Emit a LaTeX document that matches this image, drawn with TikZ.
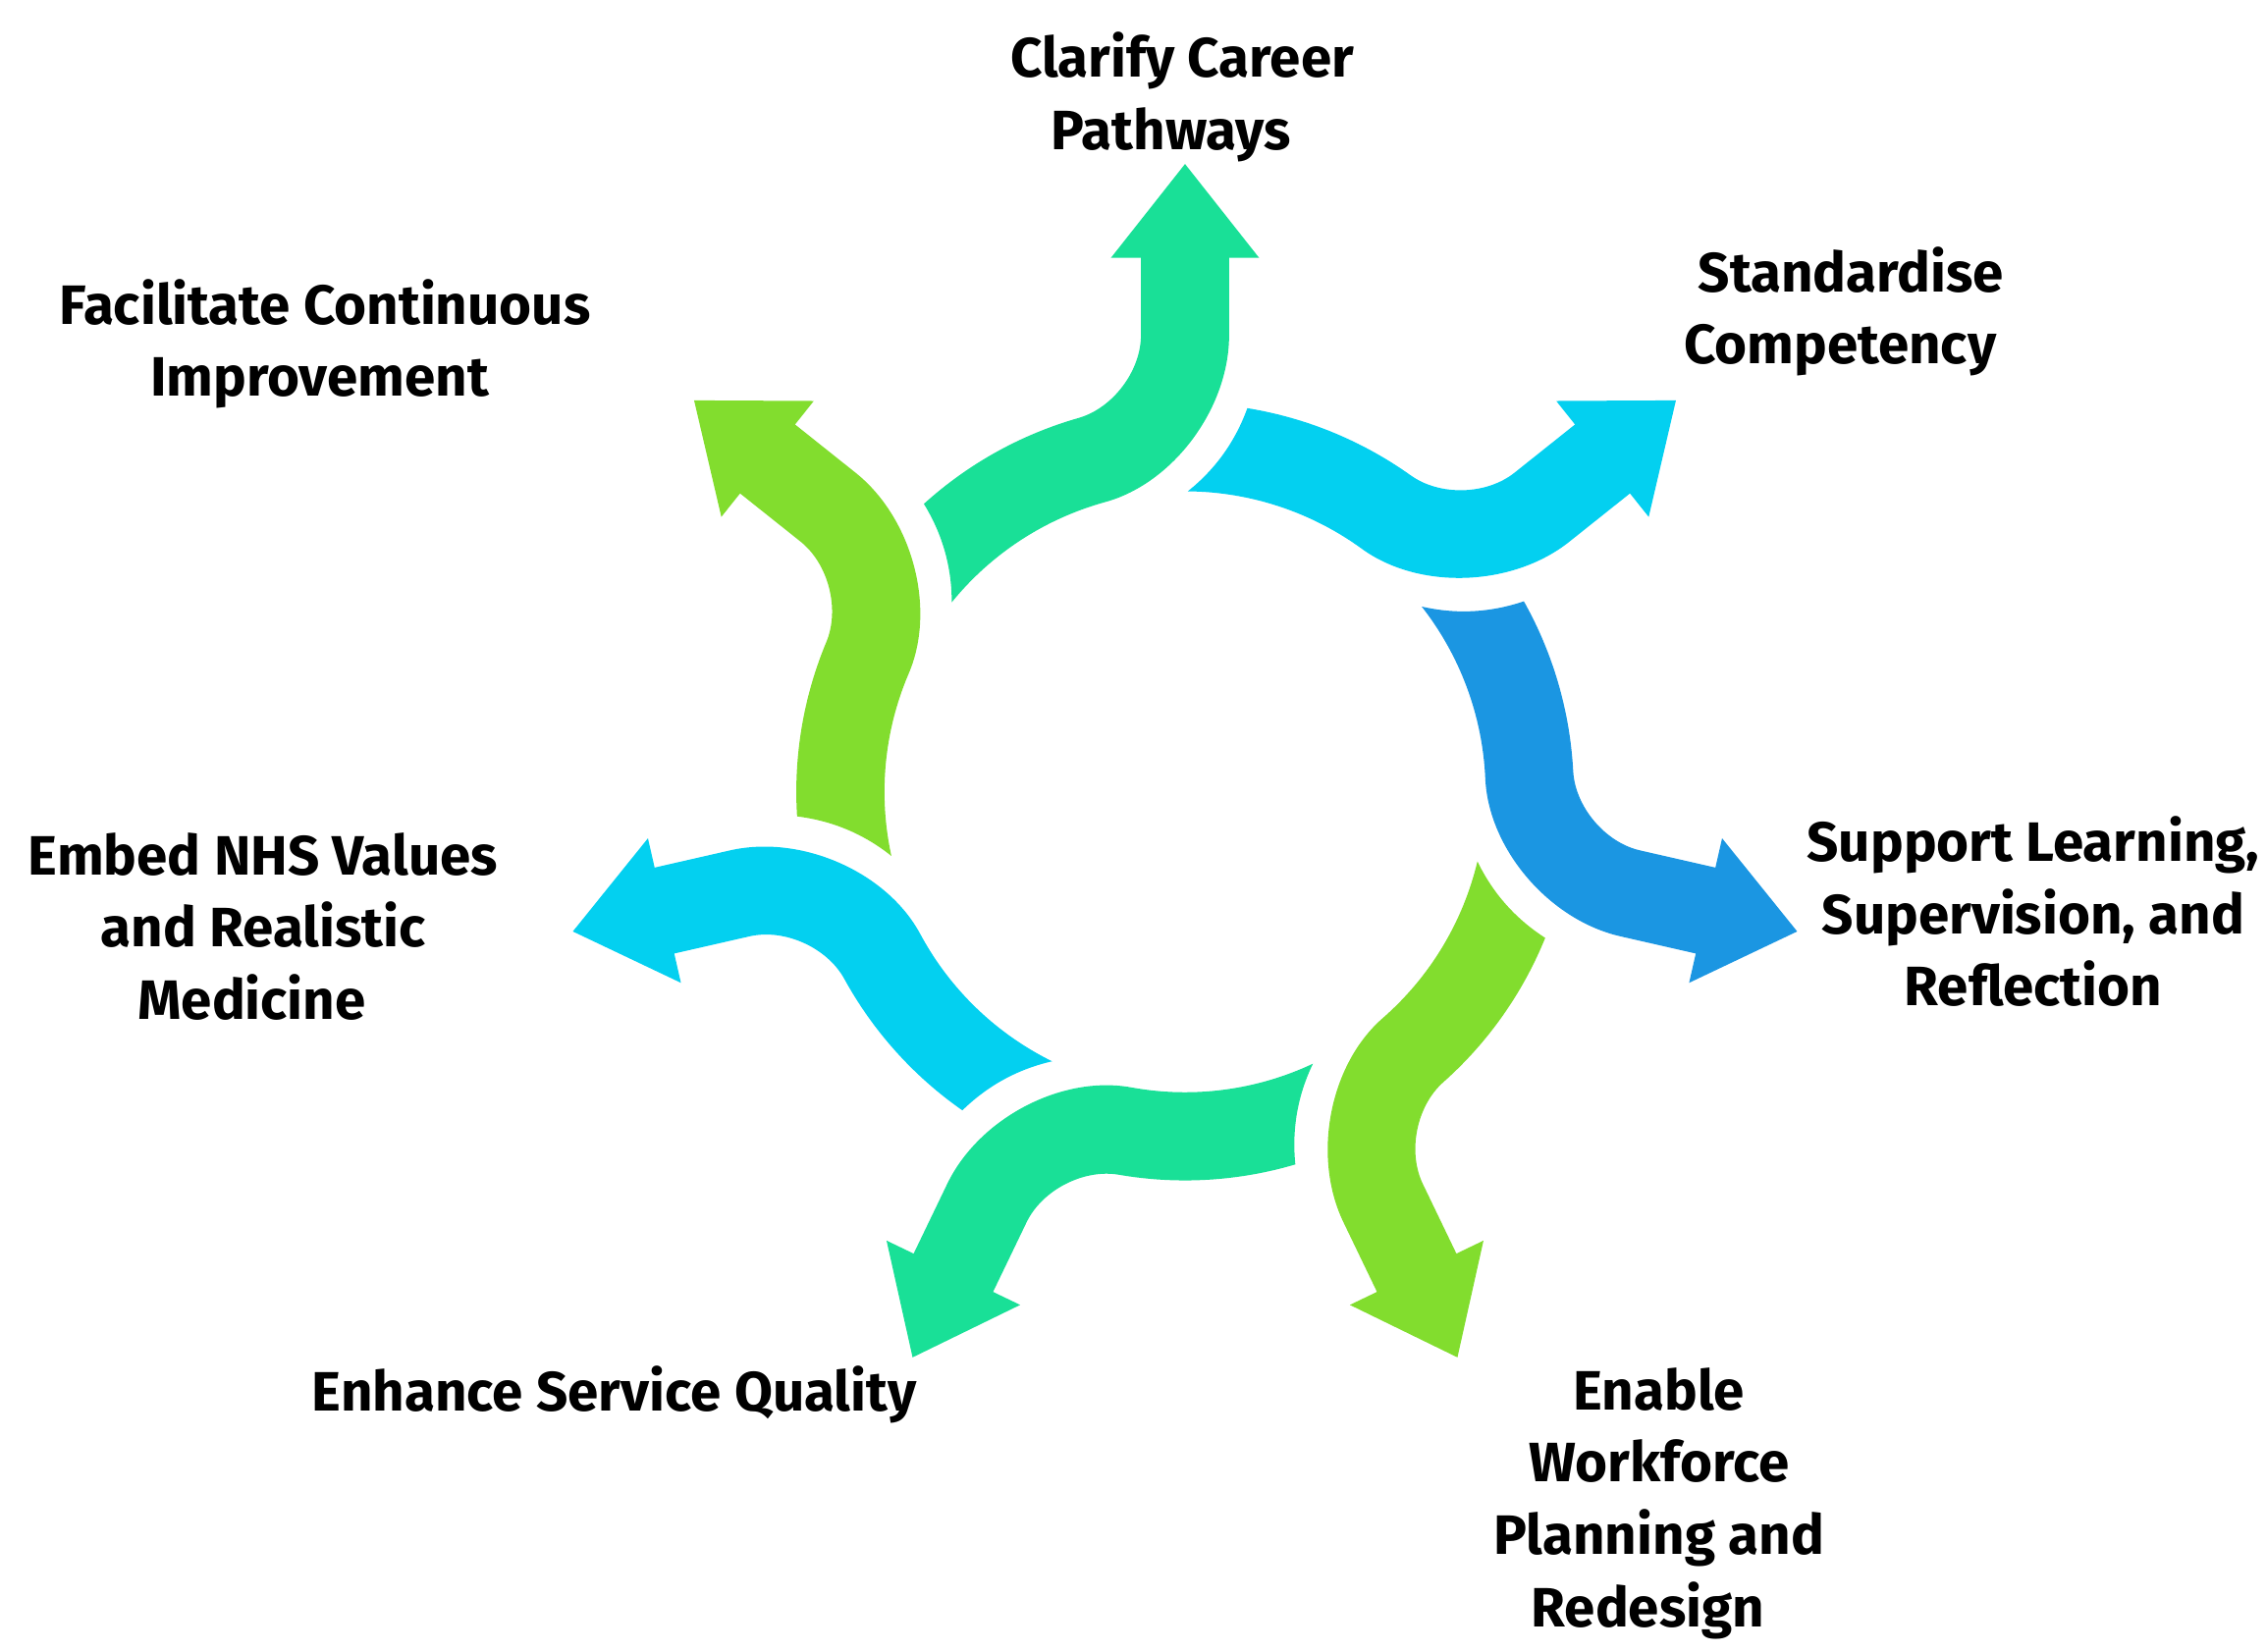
\documentclass[tikz,border=0pt]{standalone}
\usepackage{fontspec}
\setmainfont{Fira Sans}
\definecolor{cgreen}{HTML}{19E097}
\definecolor{ccyan}{HTML}{03D0F0}
\definecolor{cblue}{HTML}{1B96E2}
\definecolor{clime}{HTML}{82DD2E}
\tikzset{
  lbl/.style={font=\fontsize{19.2}{25}\selectfont\bfseries, align=center, text=black, inner sep=0pt},
}
\begin{document}
\begin{tikzpicture}[x=0.5pt,y=0.5pt]
\useasboundingbox (-820,-594.7) rectangle (748,548);
\foreach \k/\col in {0/cgreen,1/ccyan,2/cblue,3/clime,4/cgreen,5/ccyan,6/clime}{
  \fill[\col, rotate=-51.4286*\k]
    (132.2:269) arc[start angle=132.2, end angle=105.9, radius=269]
    .. controls (-49.95,265.5) and (-30.5,291.25) .. (-30.5,316)
    -- (-30.5,369.5) -- (-51.3,369.5) -- (0,434.5) -- (51.3,369.5) -- (30.5,369.5) -- (30.5,316)
    .. controls (30.5,265.5) and (-8.08,213.5) .. (105.4:208)
    arc[start angle=105.4, end angle=140.9, radius=208]
    .. controls (-161.4,155.7) and (-167.9,178.4) .. (132.2:269) -- cycle;
}
\node[lbl] (clarify) at (-2,481) {Clarify Career\\Pathways\hspace*{0.4em}};
\node[lbl] (standard) at (461,332.5) {Standardise\\Competency\hspace*{0.4em}};
\node[lbl] (support) at (587,-83) {Support Learning,\\Supervision, and\\Reflection};
\node[lbl] (enable) at (328,-492.5) {Enable\\Workforce\\Planning and\\Redesign\hspace*{0.4em}};
\node[lbl] (enhance) at (-395,-417) {Enhance Service Quality};
\node[lbl] (embed) at (-638,-93.3) {Embed NHS Values\\and Realistic\\Medicine\hspace*{0.4em}};
\node[lbl] (facil) at (-595,310) {Facilitate Continuous\\Improvement\hspace*{0.2em}};
\end{tikzpicture}
\end{document}
